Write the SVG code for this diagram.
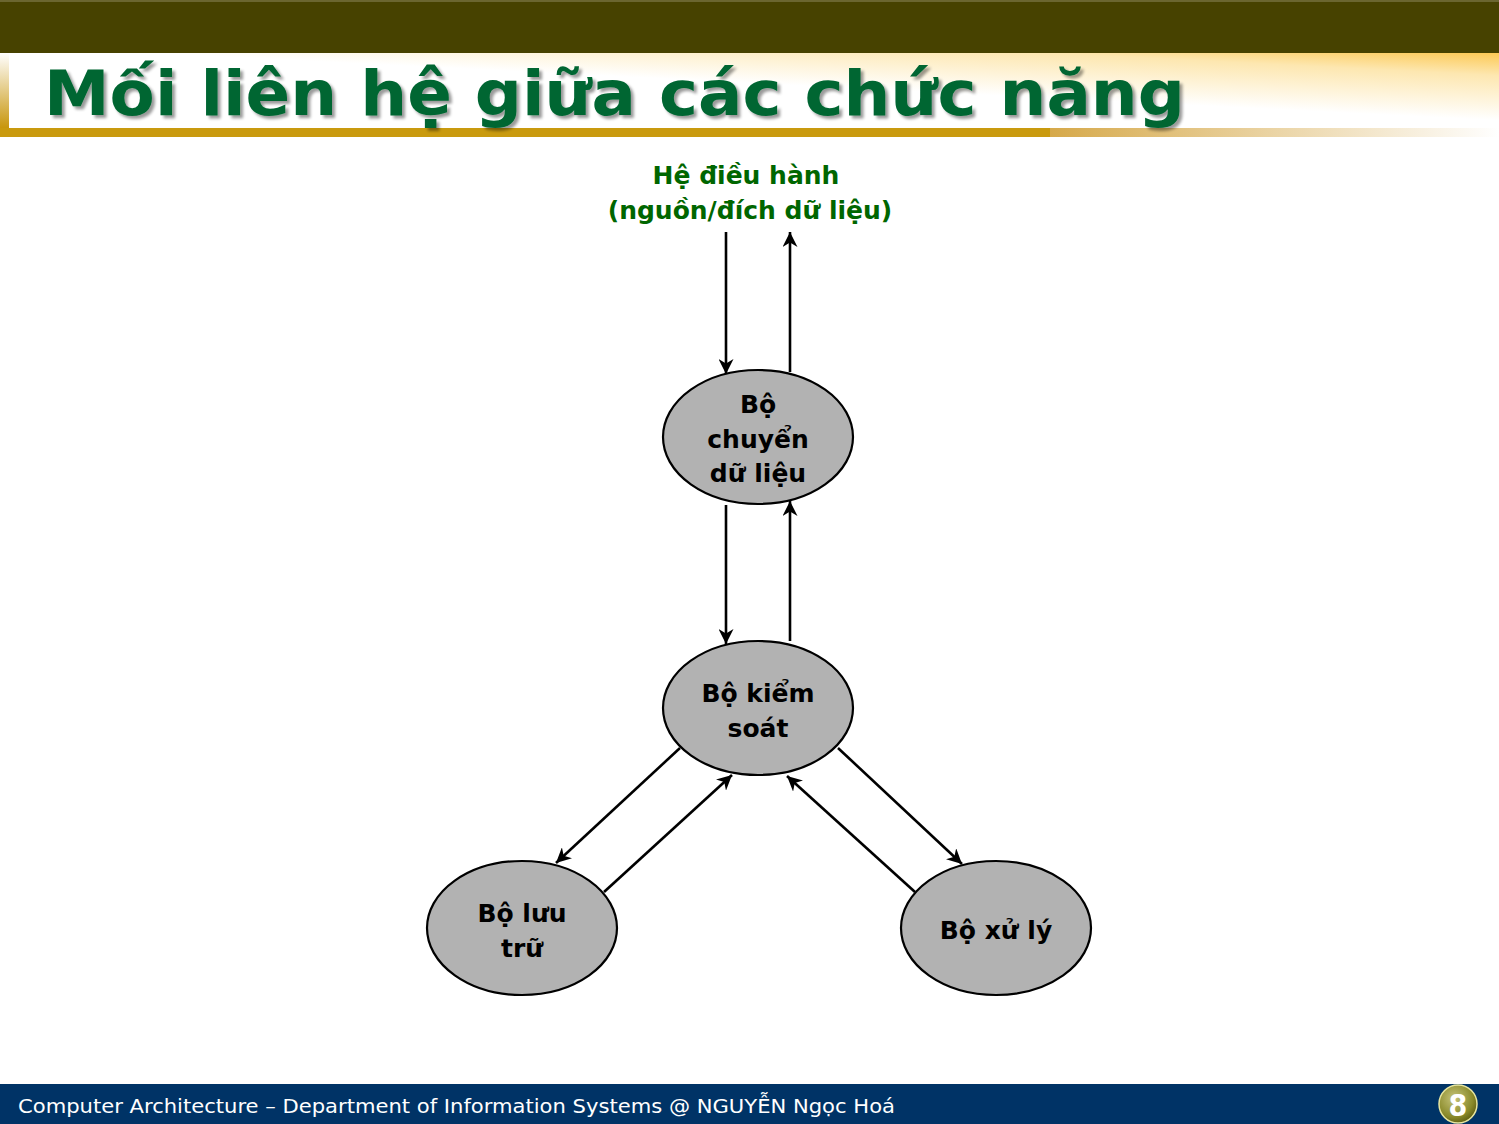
<svg xmlns="http://www.w3.org/2000/svg" width="1499" height="1124" viewBox="0 0 1499 1124">
<defs>
<linearGradient id="band" x1="0" y1="1" x2="1" y2="0">
<stop offset="0" stop-color="#ffffff"/>
<stop offset="0.55" stop-color="#ffffff"/>
<stop offset="0.85" stop-color="#fde7b0"/>
<stop offset="1" stop-color="#fcc955"/>
</linearGradient>
<linearGradient id="leftedge" x1="0" y1="0" x2="0" y2="1">
<stop offset="0" stop-color="#ffffff"/>
<stop offset="1" stop-color="#c8960c"/>
</linearGradient>
<linearGradient id="goldfade" x1="0" y1="0" x2="1" y2="0">
<stop offset="0" stop-color="#d6a94a"/>
<stop offset="1" stop-color="#ffffff"/>
</linearGradient>
<radialGradient id="badge" cx="0.4" cy="0.35" r="0.7">
<stop offset="0" stop-color="#c6c47a"/>
<stop offset="0.7" stop-color="#8a8a2a"/>
<stop offset="1" stop-color="#5a5a10"/>
</radialGradient>
<marker id="ah" viewBox="0 0 10 10" refX="10" refY="5" markerWidth="15" markerHeight="15" markerUnits="userSpaceOnUse" orient="auto">
<path d="M0,0 L10,5 L0,10 L3,5 Z" fill="#000"/>
</marker>
<filter id="sh" x="-5%" y="-20%" width="110%" height="150%">
<feGaussianBlur in="SourceAlpha" stdDeviation="1.5"/>
<feOffset dx="3" dy="3" result="b"/>
<feComponentTransfer><feFuncA type="linear" slope="0.4"/></feComponentTransfer>
<feMerge><feMergeNode/><feMergeNode in="SourceGraphic"/></feMerge>
</filter>
</defs>
<style>
.node ellipse{fill:#b2b2b2;stroke:#000;stroke-width:2.2}
.lbl{font-family:"DejaVu Sans","Liberation Sans",sans-serif;font-weight:bold;font-size:25px;fill:#000;text-anchor:middle}
.conn line{stroke:#000;stroke-width:2.6;marker-end:url(#ah)}
</style>
<rect x="0" y="0" width="1499" height="1124" fill="#ffffff"/>
<g id="header">
<rect x="0" y="0" width="1499" height="53" fill="#474200"/>
<rect x="0" y="0" width="1499" height="2" fill="#6b6630"/>
<rect x="0" y="53" width="1499" height="75" fill="url(#band)"/>
<rect x="0" y="53" width="9" height="75" fill="url(#leftedge)"/>
<rect x="0" y="128" width="1050" height="9" fill="#c99a0e"/>
<rect x="1050" y="128" width="449" height="9" fill="url(#goldfade)"/>
<text x="44" y="115" font-family="DejaVu Sans,Verdana,sans-serif" font-weight="bold" font-size="63" fill="#006633" filter="url(#sh)" textLength="1141" lengthAdjust="spacingAndGlyphs">Mối liên hệ giữa các chức năng</text>
</g>
<g id="os">
<text class="lbl" x="746" y="184" style="fill:#006600">Hệ điều hành</text>
<text class="lbl" x="750" y="219" style="fill:#006600">(nguồn/đích dữ liệu)</text>
</g>
<g id="connectors" class="conn">
<line x1="726" y1="232" x2="726" y2="374"/>
<line x1="790" y1="372" x2="790" y2="232"/>
<line x1="726" y1="505" x2="726" y2="644"/>
<line x1="790" y1="641" x2="790" y2="501"/>
<line x1="680" y1="748" x2="556" y2="863"/>
<line x1="604" y1="892" x2="732" y2="775"/>
<line x1="915" y1="892" x2="787" y2="776"/>
<line x1="838" y1="748" x2="962" y2="864"/>
</g>
<g id="node-chuyen" class="node">
<ellipse cx="758" cy="437" rx="95" ry="67"/>
<text class="lbl" x="758" y="413">Bộ</text>
<text class="lbl" x="758" y="448">chuyển</text>
<text class="lbl" x="758" y="482">dữ liệu</text>
</g>
<g id="node-kiemsoat" class="node">
<ellipse cx="758" cy="708" rx="95" ry="67"/>
<text class="lbl" x="758" y="702">Bộ kiểm</text>
<text class="lbl" x="758" y="737">soát</text>
</g>
<g id="node-luutru" class="node">
<ellipse cx="522" cy="928" rx="95" ry="67"/>
<text class="lbl" x="522" y="922">Bộ lưu</text>
<text class="lbl" x="522" y="957">trữ</text>
</g>
<g id="node-xuly" class="node">
<ellipse cx="996" cy="928" rx="95" ry="67"/>
<text class="lbl" x="996" y="939">Bộ xử lý</text>
</g>
<g id="footer">
<rect x="0" y="1084" width="1499" height="40" fill="#003366"/>
<text x="18" y="1113" font-family="DejaVu Sans Condensed,DejaVu Sans,sans-serif" font-size="19" fill="#ffffff" textLength="877" lengthAdjust="spacingAndGlyphs">Computer Architecture – Department of Information Systems @ NGUYỄN Ngọc Hoá</text>
<circle cx="1458" cy="1104" r="19" fill="url(#badge)" stroke="#e8e6a0" stroke-width="1.5"/>
<text x="1458" y="1116" font-family="DejaVu Sans Condensed,DejaVu Sans,sans-serif" font-weight="bold" font-size="30" fill="#ffffff" text-anchor="middle">8</text>
</g>
</svg>
